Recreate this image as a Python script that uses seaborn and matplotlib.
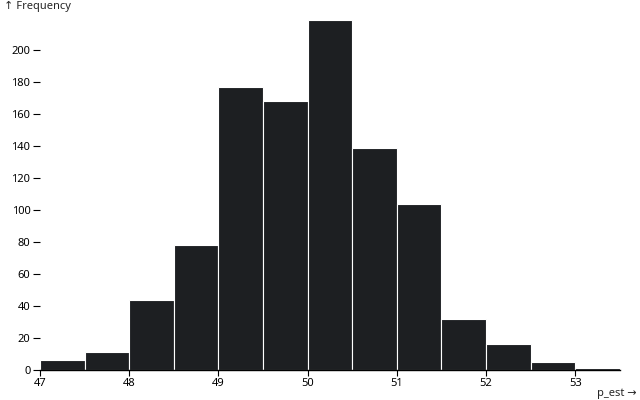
import numpy as np
import pandas as pd
import matplotlib
matplotlib.use('Agg')
import matplotlib.pyplot as plt
import seaborn as sns

# histogram bins
bin_edges = [47, 47.5, 48, 48.5, 49, 49.5, 50, 50.5, 51, 51.5, 52, 52.5, 53, 53.5]
counts = [6, 11, 44, 78, 177, 168, 219, 139, 104, 32, 16, 5, 1]
x_ticks = [47, 48, 49, 50, 51, 52, 53]
y_ticks = [0, 20, 40, 60, 80, 100, 120, 140, 160, 180, 200]

df = pd.DataFrame({
    'p_est': [(bin_edges[i] + bin_edges[i + 1]) / 2 for i in range(len(counts))],
    'n': counts,
})

sns.set_style('white')
plt.rcParams['font.family'] = ['Noto Sans', 'DejaVu Sans']

fig = plt.figure(figsize=(6.4, 4.0), dpi=100)
ax = fig.add_axes([0.0625, 0.075, 0.906, 0.88])

sns.histplot(data=df, x='p_est', weights='n', bins=bin_edges, ax=ax,
             color='#1d1f22', edgecolor='white', linewidth=0.8, alpha=1)

ax.set_xlim(47, 53.5)
ax.set_ylim(0, 220)
ax.set_xticks(x_ticks)
ax.set_yticks(y_ticks)
ax.tick_params(axis='both', bottom=True, left=True, labelsize=8, colors='black',
               length=4, width=0.8, pad=2)
ax.tick_params(axis='y', length=5)
for s in ['top', 'right', 'left']:
    ax.spines[s].set_visible(False)
ax.spines['bottom'].set_color('black')
ax.spines['bottom'].set_linewidth(1)
ax.set_xlabel('')
ax.set_ylabel('')

fig.text(0.006, 0.985, '↑ Frequency', fontsize=8, ha='left', va='center')
fig.text(0.994, 0.016, 'p_est →', fontsize=8, ha='right', va='center')

fig.savefig('out.png', dpi=100)
